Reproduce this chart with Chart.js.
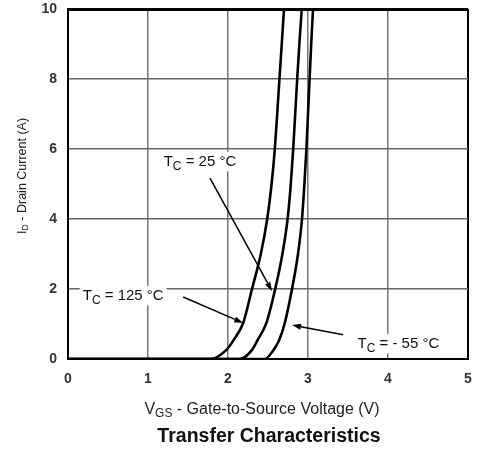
<!DOCTYPE html>
<html>
<head>
<meta charset="utf-8">
<script src="https://cdn.jsdelivr.net/npm/chart.js@4/dist/chart.umd.min.js"></script>
<style>
html,body{margin:0;padding:0;background:#fff;}
canvas{display:block;}
</style>
</head>
<body>
<canvas id="c" width="477" height="451"></canvas>
<script>
// Series values (VGS in volts, ID in amps)
const vgsT125 = [0, 1.78, 1.98, 2.07, 2.19, 2.30, 2.41, 2.49, 2.545, 2.585, 2.615, 2.643, 2.672, 2.70];
const idT125  = [0, 0,    0.26, 0.54, 1.03, 2,    3,    4,    5,     6,     7,     8,     9,     10];
const vgsT25  = [0, 2.15, 2.30, 2.37, 2.48, 2.59, 2.68, 2.745, 2.785, 2.815, 2.84, 2.865, 2.892, 2.922];
const idT25   = [0, 0,    0.26, 0.54, 1.03, 2,    3,    4,     5,     6,     7,    8,     9,     10];
const vgsTm55 = [0, 2.46, 2.57, 2.64, 2.71, 2.80, 2.875, 2.925, 2.955, 2.98, 3.00, 3.02, 3.04, 3.063];
const idTm55  = [0, 0,    0.26, 0.54, 1.03, 2,    3,     4,     5,     6,    7,    8,    9,    10];
const seriesNames = ['TC = 125 °C', 'TC = 25 °C', 'TC = - 55 °C'];
const xTicks = [0, 1, 2, 3, 4, 5];
const yTicks = [0, 2, 4, 6, 8, 10];

const FONT = '"Liberation Sans", Arial, sans-serif';

function pts(xs, ys) { return xs.map((x, i) => ({x: x, y: ys[i]})); }

// Annotation layout (data coordinates)
const annotations = [
  {sub: 'C', rest: ' = 25 °C',   lx: 1.65, ly: 5.66, ax0: 1.775, ay0: 5.17, ax1: 2.55, ay1: 1.94},
  {sub: 'C', rest: ' = 125 °C',  lx: 0.69, ly: 1.83, ax0: 1.44,  ay0: 1.77, ax1: 2.19, ay1: 1.03},
  {sub: 'C', rest: ' = - 55 °C', lx: 4.13, ly: 0.46, ax0: 3.44,  ay0: 0.69, ax1: 2.80, ay1: 0.97}
];

function drawSubText(ctx, main, sub, rest, cx, cy, size, weight, color, bg, subScale) {
  const mainFont = weight + ' ' + size + 'px ' + FONT;
  const subFont = weight + ' ' + Math.round(size * (subScale || 0.75)) + 'px ' + FONT;
  ctx.font = mainFont; const w1 = ctx.measureText(main).width;
  ctx.font = subFont; const w2 = ctx.measureText(sub).width;
  ctx.font = mainFont; const w3 = ctx.measureText(rest).width;
  const total = w1 + w2 + w3;
  let x = cx - total / 2;
  if (bg) {
    ctx.fillStyle = bg;
    ctx.fillRect(x - 3, cy - size * 0.6, total + 6, size * 1.3);
  }
  ctx.fillStyle = color;
  ctx.textBaseline = 'alphabetic';
  ctx.textAlign = 'left';
  const base = cy + size * 0.36;
  ctx.font = mainFont; ctx.fillText(main, x, base); x += w1;
  ctx.font = subFont; ctx.fillText(sub, x, base + size * 0.22); x += w2;
  ctx.font = mainFont; ctx.fillText(rest, x, base);
}

function arrow(ctx, x0, y0, x1, y1) {
  const ang = Math.atan2(y1 - y0, x1 - x0);
  const L = 9, W = 3;
  ctx.strokeStyle = '#000'; ctx.lineWidth = 1.5;
  ctx.beginPath();
  ctx.moveTo(x0, y0);
  ctx.lineTo(x1 - L * Math.cos(ang), y1 - L * Math.sin(ang));
  ctx.stroke();
  ctx.fillStyle = '#000';
  ctx.beginPath();
  ctx.moveTo(x1, y1);
  ctx.lineTo(x1 - L * Math.cos(ang) + W * Math.sin(ang), y1 - L * Math.sin(ang) - W * Math.cos(ang));
  ctx.lineTo(x1 - L * Math.cos(ang) - W * Math.sin(ang), y1 - L * Math.sin(ang) + W * Math.cos(ang));
  ctx.closePath();
  ctx.fill();
}

const textPlugin = {
  id: 'texts',
  beforeDraw(chart) {
    const ctx = chart.ctx;
    ctx.save();
    ctx.fillStyle = '#fff';
    ctx.fillRect(0, 0, chart.width, chart.height);
    ctx.restore();
  },
  afterDatasetsDraw(chart) {
    const ctx = chart.ctx;
    const xs = chart.scales.x, ys = chart.scales.y;
    const a = chart.chartArea;
    ctx.save();
    annotations.forEach(an => {
      drawSubText(ctx, 'T', an.sub, an.rest, xs.getPixelForValue(an.lx), ys.getPixelForValue(an.ly), 15, 'normal', '#111', '#fff', 0.8);
      arrow(ctx, xs.getPixelForValue(an.ax0), ys.getPixelForValue(an.ay0), xs.getPixelForValue(an.ax1), ys.getPixelForValue(an.ay1));
    });
    // x axis title
    const cxX = (a.left + a.right) / 2 - 6;
    drawSubText(ctx, 'V', 'GS', ' - Gate-to-Source Voltage (V)', cxX, a.bottom + 49, 16, 'normal', '#222', null);
    // y axis title (rotated)
    ctx.translate(21, (a.top + a.bottom) / 2 - 8);
    ctx.rotate(-Math.PI / 2);
    drawSubText(ctx, 'I', 'D', ' - Drain Current (A)', 0, 0, 12.5, 'normal', '#222', null);
    ctx.restore();
    // chart title
    ctx.save();
    ctx.font = 'bold 19.5px ' + FONT;
    ctx.fillStyle = '#111';
    ctx.textAlign = 'center';
    ctx.textBaseline = 'middle';
    ctx.fillText('Transfer Characteristics', (a.left + a.right) / 2 + 1, a.bottom + 78);
    ctx.restore();
  }
};

const lineStyle = {
  borderColor: '#000', borderWidth: 2.6, pointRadius: 0, fill: false,
  cubicInterpolationMode: 'monotone', showLine: true
};

new Chart(document.getElementById('c'), {
  type: 'scatter',
  data: {
    datasets: [
      Object.assign({label: seriesNames[0], data: pts(vgsT125, idT125)}, lineStyle),
      Object.assign({label: seriesNames[1], data: pts(vgsT25, idT25)}, lineStyle),
      Object.assign({label: seriesNames[2], data: pts(vgsTm55, idTm55)}, lineStyle)
    ]
  },
  options: {
    responsive: false,
    devicePixelRatio: 1,
    animation: false,
    layout: {padding: {left: 0, right: 9, top: 9, bottom: 62}},
    plugins: {legend: {display: false}, tooltip: {enabled: false}, title: {display: false}},
    scales: {
      x: {
        type: 'linear', min: 0, max: 5,
        afterBuildTicks: s => { s.ticks = xTicks.map(v => ({value: v})); },
        afterFit: s => { s.height = 30; s.paddingLeft = 0; s.paddingRight = 0; },
        ticks: {padding: 12, color: '#333', font: {family: FONT, size: 14, weight: 'bold'}},
        grid: {
          drawTicks: false,
          color: c => (c.tick && (c.tick.value === 5 || c.tick.value === 0)) ? '#000' : '#777',
          lineWidth: c => (c.tick && (c.tick.value === 5 || c.tick.value === 0)) ? 2 : 1.5
        },
        border: {display: true, color: '#000', width: 2}
      },
      y: {
        type: 'linear', min: 0, max: 10,
        afterBuildTicks: s => { s.ticks = yTicks.map(v => ({value: v})); },
        afterFit: s => { s.width = 68; s.paddingTop = 0; s.paddingBottom = 0; },
        ticks: {padding: 11, color: '#333', font: {family: FONT, size: 14, weight: 'bold'}},
        grid: {
          drawTicks: false,
          color: c => (c.tick && (c.tick.value === 10 || c.tick.value === 0)) ? '#000' : '#666',
          lineWidth: c => (c.tick && c.tick.value === 10) ? 3 : ((c.tick && c.tick.value === 0) ? 2 : 1.5)
        },
        border: {display: true, color: '#000', width: 2}
      }
    }
  },
  plugins: [textPlugin]
});
</script>
</body>
</html>
